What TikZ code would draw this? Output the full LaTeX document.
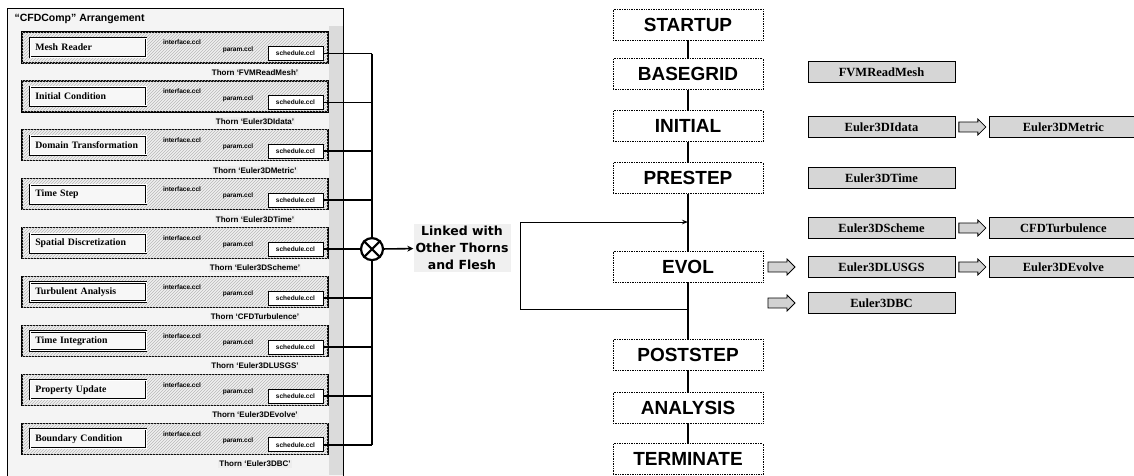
\documentclass[tikz,border=0pt]{standalone}
\usepackage{fontspec}
\setmainfont{Liberation Serif}
\setsansfont{Liberation Sans}
\newfontfamily\linkfont{DejaVu Sans}
\usetikzlibrary{arrows.meta,positioning,shapes.arrows,patterns}

\begin{document}
\begin{tikzpicture}[
  x=1pt,y=-1pt,
  panel/.style={draw,line width=1pt,fill=gray!9,minimum width=336,minimum height=480,inner sep=0pt},
  thornrow/.style={draw,line width=1.2pt,fill=gray!12,minimum width=306,minimum height=31,inner sep=0pt,
                   postaction={pattern=north east lines,pattern color=gray!55}},
  modname/.style={draw,line width=0.6pt,double,double distance=1pt,fill=gray!6,anchor=west,
                  text width=106,align=left,minimum height=19,inner xsep=5pt,
                  font=\bfseries\fontsize{9.8}{11}\selectfont},
  ccl/.style={font=\sffamily\bfseries\fontsize{6.5}{7}\selectfont,inner sep=1pt},
  sched/.style={ccl,draw,line width=0.6pt,fill=white,minimum width=55,minimum height=14},
  thornlbl/.style={font=\sffamily\bfseries\fontsize{8}{9}\selectfont,inner sep=1pt,fill=gray!14},
  bus/.style={line width=1.8pt},
  mixer/.style={draw,circle,line width=2.2pt,fill=white,minimum size=22,inner sep=0pt},
  linktext/.style={font=\linkfont\bfseries\fontsize{12.5}{17}\selectfont,align=center,fill=gray!12,inner sep=2pt},
  stepbox/.style={draw,densely dotted,line width=0.7pt,minimum width=150,minimum height=31,inner sep=0pt,
                  font=\sffamily\bfseries\fontsize{19}{21}\selectfont},
  thread/.style={line width=1.4pt},
  thornbox/.style={draw,line width=0.9pt,fill=gray!32,minimum width=147,minimum height=21,inner sep=0pt,
                   font=\bfseries\fontsize{12.5}{14}\selectfont},
  blockarrow/.style={single arrow,draw,line width=0.8pt,fill=gray!35,minimum height=27,minimum width=16,
                     single arrow head extend=3pt,inner xsep=1pt,inner ysep=4.5pt}
]
\useasboundingbox (0,0) rectangle (1134,475);

% "CFDComp" arrangement
\node[panel] (comp) at (175,248) {};
\fill[gray!28] (329,26) rectangle (342.5,475);
\node[font=\sffamily\bfseries\fontsize{10.5}{12}\selectfont,anchor=west] (title) at (11,19) {“CFDComp” Arrangement};
\coordinate (busx) at (372,0);

\foreach \i/\modtxt/\thorn in {1/Mesh Reader/FVMReadMesh,2/Initial Condition/Euler3DIdata,
    3/Domain Transformation/Euler3DMetric,4/Time Step/Euler3DTime,
    5/Spatial Discretization/Euler3DScheme,6/Turbulent Analysis/CFDTurbulence,
    7/Time Integration/Euler3DLUSGS,8/Property Update/Euler3DEvolve,
    9/Boundary Condition/Euler3DBC}{
  \pgfmathsetmacro{\y}{47.5+48.9*(\i-1)}
  \node[thornrow] (row\i) at (175,\y) {};
  \node[modname] (name\i) at (30,\y) {\modtxt};
  \node[ccl] (iface\i) at (182,\y-5) {interface.ccl};
  \node[ccl] (param\i) at (238,\y+2) {param.ccl};
  \node[sched] (sched\i) at (295.5,\y+6) {schedule.ccl};
  \node[thornlbl] (thorn\i) at (255,\y+25) {Thorn `\thorn'};
  \draw[bus] (sched\i.east) -- (sched\i.east -| busx);
}
\draw[bus] (sched1.east -| busx) -- (sched9.east -| busx);
\node[mixer] (mix) at (sched5.east -| busx) {};
\draw[line width=2.2pt] (mix.45) -- (mix.225) (mix.135) -- (mix.315);
\node[linktext] (link) at (462,248) {Linked with\\Other Thorns\\and Flesh};
\draw[-{Stealth[length=6pt,width=6pt]},line width=1.6pt] (mix) -- (link);

% schedule bins
\node[stepbox] (startup) at (688,24.5) {STARTUP};
\node[stepbox] (basegrid) at (688,74) {BASEGRID};
\node[stepbox] (initial) at (688,126) {INITIAL};
\node[stepbox] (prestep) at (688,178) {PRESTEP};
\node[stepbox] (evol) at (688,266.5) {EVOL};
\node[stepbox] (poststep) at (688,354.5) {POSTSTEP};
\node[stepbox] (analysis) at (688,407.5) {ANALYSIS};
\node[stepbox] (terminate) at (688,459) {TERMINATE};
\draw[thread] (startup) -- (basegrid);
\draw[thread] (basegrid) -- (initial);
\draw[thread] (initial) -- (prestep);
\draw[thread] (prestep) -- (evol);
\draw[thread] (evol) -- (poststep);
\draw[thread] (poststep) -- (analysis);
\draw[thread] (analysis) -- (terminate);

\coordinate (loopin) at (688,222);
\coordinate (loopout) at (688,309);
\coordinate (loopleft) at (520,309);
\draw[line width=1pt,-{Stealth[length=6pt]}] (loopout) -- (loopleft) |- (loopin);

% scheduled thorns
\node[thornbox] (fvm) at (881.5,72) {FVMReadMesh};
\node[thornbox] (idata) at (881.5,127) {Euler3DIdata};
\node[blockarrow,right=3pt of idata] (a1) {};
\node[thornbox,right=3pt of a1] (metric) {Euler3DMetric};
\node[thornbox] (time) at (881.5,178) {Euler3DTime};
\node[thornbox] (scheme) at (881.5,228) {Euler3DScheme};
\node[blockarrow,right=3pt of scheme] (a2) {};
\node[thornbox,right=3pt of a2] (turb) {CFDTurbulence};
\node[thornbox] (lusgs) at (881.5,267) {Euler3DLUSGS};
\node[blockarrow,right=3pt of lusgs] (a3) {};
\node[thornbox,right=3pt of a3] (evolve) {Euler3DEvolve};
\node[blockarrow,left=12pt of lusgs] (a4) {};
\node[thornbox] (bc) at (881.5,303) {Euler3DBC};
\node[blockarrow,left=12pt of bc] (a5) {};
\end{tikzpicture}
\end{document}
